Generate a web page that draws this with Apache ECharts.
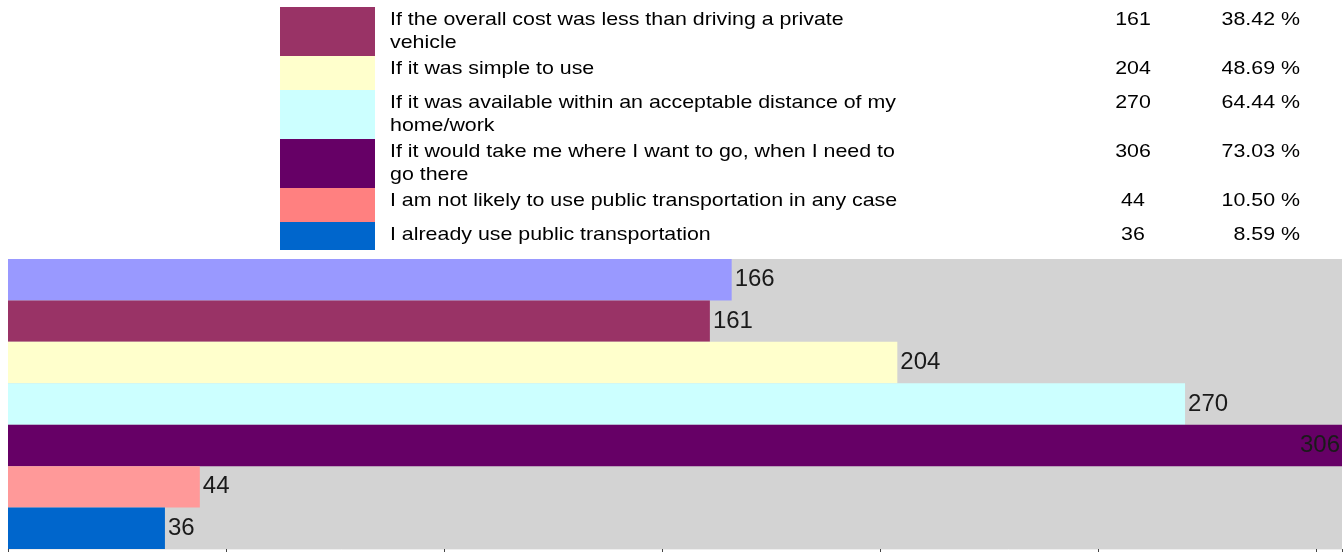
<!DOCTYPE html>
<html>
<head>
<meta charset="utf-8">
<script src="https://cdn.jsdelivr.net/npm/echarts@6/dist/echarts.min.js"></script>
<style>
  html, body { margin: 0; padding: 0; background: #fff; }
  #chart { width: 1343px; height: 552px; }
</style>
</head>
<body>
<div id="chart"></div>
<script>
// first answer sits above the visible part of the legend, its text is not shown
var answers = [
  '',
  'If the overall cost was less than driving a private\nvehicle',
  'If it was simple to use',
  'If it was available within an acceptable distance of my\nhome/work',
  'If it would take me where I want to go, when I need to\ngo there',
  'I am not likely to use public transportation in any case',
  'I already use public transportation'
];
var counts = [166, 161, 204, 270, 306, 44, 36];
var percents = ['', '38.42 %', '48.69 %', '64.44 %', '73.03 %', '10.50 %', '8.59 %'];
var colors = ['#9999ff', '#993366', '#ffffcc', '#ccffff', '#660066', '#ff8080', '#0066cc'];
var barColors = ['#9999ff', '#993366', '#ffffcc', '#ccffff', '#660066', '#ff9999', '#0066cc'];
var axisMax = 306;
var axisStep = 50;

var TEXT_FONT = '18.5px "Liberation Sans", Arial, sans-serif';
var STRETCH = 1.155;

// legend table (rows 1..6 are the visible ones)
var legendEls = [];
var rowTop = 7;
for (var i = 1; i < answers.length; i++) {
  var lines = answers[i].split('\n').length;
  var h = 34 + (lines - 1) * 15;
  var sh = Math.min(h, 250 - rowTop);
  legendEls.push({
    type: 'rect',
    shape: { x: 280, y: rowTop, width: 95, height: sh },
    style: { fill: colors[i] }
  });
  legendEls.push({
    type: 'text', x: 390, y: rowTop + 1.5, scaleX: STRETCH,
    style: { text: answers[i], font: TEXT_FONT, lineHeight: 23, fill: '#000', align: 'left', verticalAlign: 'top' }
  });
  legendEls.push({
    type: 'text', x: 1133, y: rowTop + 13, scaleX: STRETCH,
    style: { text: String(counts[i]), font: TEXT_FONT, fill: '#000', align: 'center', verticalAlign: 'middle' }
  });
  legendEls.push({
    type: 'text', x: 1300, y: rowTop + 13, scaleX: STRETCH,
    style: { text: percents[i], font: TEXT_FONT, fill: '#000', align: 'right', verticalAlign: 'middle' }
  });
  rowTop += h;
}

var barData = counts.map(function (v, i) {
  var item = { value: v, itemStyle: { color: barColors[i] } };
  if (v >= axisMax) {
    item.label = { position: 'insideRight', distance: 2 };
  }
  return item;
});

var option = {
  animation: false,
  grid: {
    left: 8, right: 1, top: 259, bottom: 3,
    show: true, backgroundColor: '#d3d3d3', borderWidth: 0
  },
  xAxis: {
    type: 'value',
    min: 0,
    max: axisMax,
    interval: axisStep,
    axisLine: { show: true, lineStyle: { color: '#eeeeee', width: 1 } },
    axisTick: { show: true, length: 5, lineStyle: { color: '#444' } },
    axisLabel: { show: false },
    splitLine: { show: false }
  },
  yAxis: {
    type: 'category',
    inverse: true,
    data: answers,
    axisLine: { show: false },
    axisTick: { show: false },
    axisLabel: { show: false }
  },
  series: [{
    type: 'bar',
    data: barData,
    barCategoryGap: '0%',
    label: {
      show: true,
      position: 'right',
      distance: 3,
      fontFamily: '"Liberation Sans", Arial, sans-serif',
      fontSize: 24,
      color: '#1a1a1a'
    }
  }],
  graphic: { elements: legendEls }
};

var myChart = echarts.init(document.getElementById('chart'));
myChart.setOption(option);
</script>
</body>
</html>
